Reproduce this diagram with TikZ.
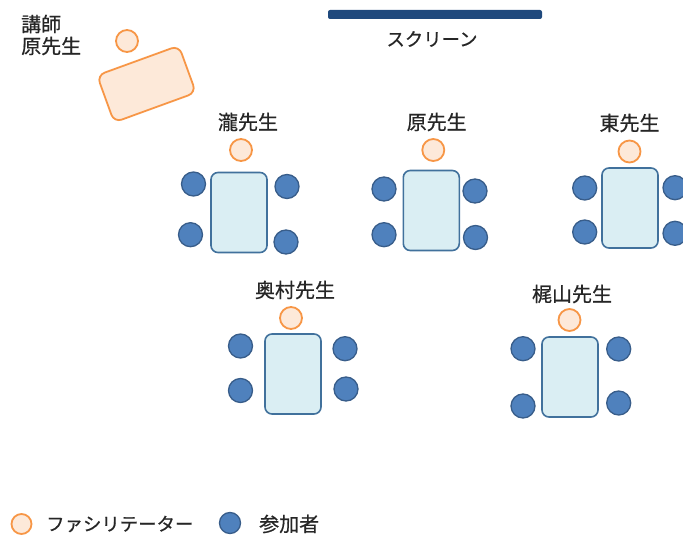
\documentclass[tikz,border=0pt]{standalone}
\usepackage{fontspec}
\newfontfamily\jp[FakeBold=0.6]{Noto Sans CJK JP}
\definecolor{peach}{HTML}{FDE9D9}
\definecolor{orng}{HTML}{F79646}
\definecolor{tblfill}{HTML}{DAEEF3}
\definecolor{tbldraw}{HTML}{41719C}
\definecolor{pfill}{HTML}{4F81BD}
\definecolor{pdraw}{HTML}{385D8A}
\definecolor{scr}{HTML}{1F497D}
\definecolor{txt}{HTML}{262626}
\tikzset{
  lbl/.style={inner sep=0pt, text=txt, font=\jp\fontsize{20}{22}\selectfont},
  kana/.style={lbl, font=\jp\fontsize{18.4}{22}\selectfont},
  fac/.style={circle, draw=orng, fill=peach, line width=1.8pt, minimum size=22pt, inner sep=0pt},
  part/.style={circle, draw=pdraw, fill=pfill, line width=1.3pt, minimum size=24pt, inner sep=0pt},
  tbl/.style={rectangle, rounded corners=7pt, draw=tbldraw, fill=tblfill, line width=1.6pt, minimum width=56pt, minimum height=80pt, inner sep=0pt},
  ptbl/.style={rectangle, rounded corners=8pt, draw=orng, fill=peach, line width=1.8pt, minimum width=87pt, minimum height=50pt, inner sep=0pt},
}
\begin{document}
\begin{tikzpicture}[x=1pt, y=-1pt]
\useasboundingbox (0,0) rectangle (683,535);
% screen
\node[rectangle, fill=scr, rounded corners=2pt, minimum width=214pt, minimum height=9pt, inner sep=0pt] (screen) at (435,14.5) {};
\node[kana] (screenlbl) at (432,39) {スクリーン};
% lecturer
\node[lbl, anchor=west] (lect1) at (21,24) {講師};
\node[lbl, anchor=west] (lect2) at (21,46) {原先生};
\node[fac] (lectf) at (127,41) {};
\node[ptbl, rotate=20] (lectt) at (146.5,84) {};
% group 1
\node[lbl] (g1l) at (248,122) {瀧先生};
\node[fac] (g1f) at (241,150) {};
\node[tbl] (g1t) at (239,212.5) {};
\node[part] (g1a) at (193.5,184) {};
\node[part] (g1b) at (190.5,234.7) {};
\node[part] (g1c) at (287,186.5) {};
\node[part] (g1d) at (286,242) {};
% group 2
\node[lbl] (g2l) at (436.7,122) {原先生};
\node[fac] (g2f) at (433.3,150) {};
\node[tbl] (g2t) at (431.3,210.5) {};
\node[part] (g2a) at (384,189) {};
\node[part] (g2b) at (384,234.7) {};
\node[part] (g2c) at (475,191) {};
\node[part] (g2d) at (475.5,237.5) {};
% group 3
\node[lbl] (g3l) at (629.5,123) {東先生};
\node[fac] (g3f) at (629.5,151.5) {};
\node[tbl] (g3t) at (630,208) {};
\node[part] (g3a) at (584.7,188) {};
\node[part] (g3b) at (584.7,232) {};
\node[part] (g3c) at (675,187.7) {};
\node[part] (g3d) at (675,233.3) {};
% group 4
\node[lbl] (g4l) at (295,290) {奥村先生};
\node[fac] (g4f) at (291,318) {};
\node[tbl] (g4t) at (293,374) {};
\node[part] (g4a) at (240.5,346) {};
\node[part] (g4b) at (240.5,390.5) {};
\node[part] (g4c) at (345,348.7) {};
\node[part] (g4d) at (346,389) {};
% group 5
\node[lbl] (g5l) at (572,294) {梶山先生};
\node[fac] (g5f) at (569.5,320) {};
\node[tbl] (g5t) at (570,377) {};
\node[part] (g5a) at (523,348.7) {};
\node[part] (g5b) at (523,406) {};
\node[part] (g5c) at (618.7,349) {};
\node[part] (g5d) at (618.7,403) {};
% legend
\node[fac, minimum size=20pt] (legf) at (21.5,524) {};
\node[kana, anchor=west] (legft) at (46,524) {ファシリテーター};
\node[part, minimum size=21pt] (legp) at (230,523) {};
\node[lbl, anchor=west] (legpt) at (259,524) {参加者};
\end{tikzpicture}
\end{document}
